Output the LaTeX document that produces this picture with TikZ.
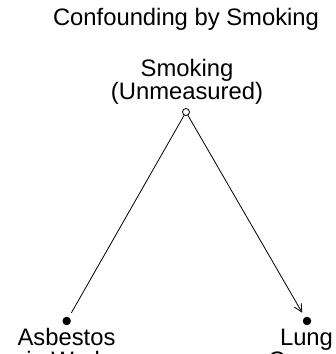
\documentclass[tikz,border=0pt]{standalone}
\usepackage{fontspec}
\setmainfont{Liberation Sans}
\usetikzlibrary{arrows.meta}
\begin{document}
\begin{tikzpicture}[x=1pt,y=1pt,
  lbl/.style={font=\fontsize{23.8}{23.8}\selectfont, inner sep=0pt, anchor=base},
  dotnode/.style={circle, fill=black, inner sep=0pt, minimum size=8.5pt},
  opennode/.style={circle, draw=black, fill=white, line width=0.8pt, inner sep=0pt, minimum size=7pt},
  edge/.style={line width=0.8pt, black}]
\useasboundingbox (0,0) rectangle (336,354);
\clip (0,0) rectangle (336,354);
\fill[white] (0,0) rectangle (336,354);
% title
\node[lbl] (title) at (186,328) {Confounding by Smoking};
% smoking
\node[lbl] (smk1) at (187,277) {Smoking};
\node[lbl] (smk2) at (187,254) {(Unmeasured)};
% nodes
\coordinate (smc) at (186,242);
\node[dotnode] (asb) at (66.7,33) {};
\node[dotnode] (lung) at (307,33) {};
% labels
\node[lbl] (asb1) at (66.5,8.3) {Asbestos};
\node[lbl] (asb2) at (66.5,-14.7) {in Work};
\node[lbl] (lung1) at (306.5,8.3) {Lung};
\node[lbl] (lung2) at (306.5,-14.7) {Cancer};
% edges
\draw[edge, shorten >=9.5pt, shorten <=3pt] (smc) -- (asb.center);
\draw[edge, shorten >=9.5pt, shorten <=3pt, -{Straight Barb[length=8pt,width=8pt,line width=0.8pt]}] (smc) -- (lung.center);
\node[opennode] (smoke) at (smc) {};
\end{tikzpicture}
\end{document}
